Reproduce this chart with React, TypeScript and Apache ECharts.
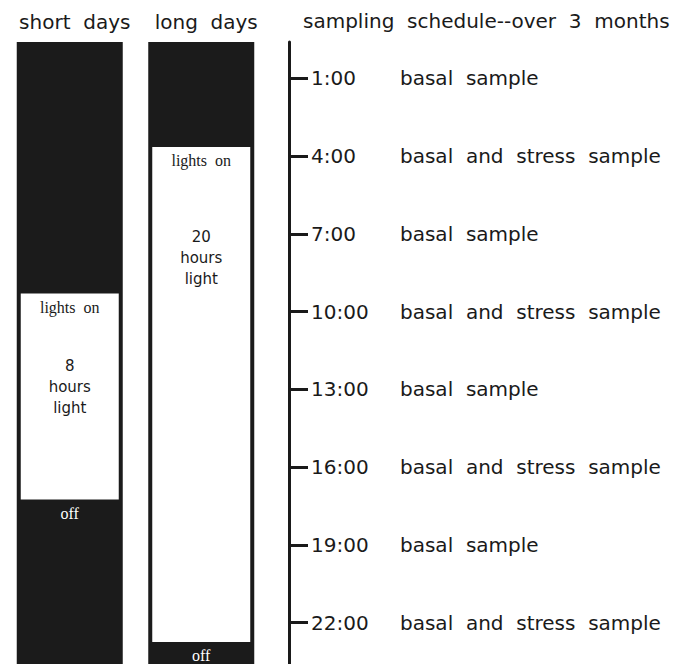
import React, { useEffect, useRef } from "react";
import * as echarts from "echarts";

// ---- data ----
const columnNames = ["short  days", "long  days"];
const lightsOn = [9.3, 3.65]; // hour of day when lights go on
const lightsOff = [17.25, 22.75]; // hour of day when lights go off
const lightHours = [8, 20];
const sampleHours = [1, 4, 7, 10, 13, 16, 19, 22];
const sampleTypes = [
  "basal  sample",
  "basal  and  stress  sample",
  "basal  sample",
  "basal  and  stress  sample",
  "basal  sample",
  "basal  and  stress  sample",
  "basal  sample",
  "basal  and  stress  sample",
];
const scheduleTitle = "sampling  schedule--over  3  months";

// ---- layout / style ----
const AXIS_MIN = -0.4;
const AXIS_MAX = 23.6;
const COL_WIDTH = 106;
const INSET = 4;
const TEXT_OFFSET = [94, 111];
const INK = "#1a1a1a";
const SANS = "DejaVu Sans";
const SERIF = "Liberation Serif";

export default function App() {
  const ref = useRef<HTMLDivElement>(null);
  useEffect(() => {
    document.body.style.margin = "0";
    const chart = echarts.init(ref.current!, null, { renderer: "svg" });
    const colData = columnNames.map((_, i) => [i, lightsOn[i], lightsOff[i], lightHours[i]]);
    chart.setOption({
      animation: false,
      title: {
        text: scheduleTitle,
        left: 303,
        top: 11,
        padding: 0,
        textStyle: { fontFamily: SANS, fontSize: 20, fontWeight: "normal", color: INK },
      },
      grid: [
        { left: 4, width: 263, top: 42, bottom: 0 },
        { left: 289, right: 0, top: 42, bottom: 0 },
      ],
      xAxis: [
        {
          gridIndex: 0,
          type: "category",
          data: columnNames,
          position: "top",
          axisLine: { show: false },
          axisTick: { show: false },
          axisLabel: {
            interval: 0,
            hideOverlap: false,
            margin: 20,
            verticalAlign: "middle",
            fontFamily: SANS,
            fontSize: 20,
            color: INK,
            padding: [0, 0, 0, 10],
          },
        },
        { gridIndex: 1, type: "value", min: 0, max: 1, show: false },
      ],
      yAxis: [
        { gridIndex: 0, type: "value", inverse: true, min: AXIS_MIN, max: AXIS_MAX, show: false },
        {
          gridIndex: 1,
          type: "value",
          inverse: true,
          min: AXIS_MIN,
          max: AXIS_MAX,
          position: "left",
          splitLine: { show: false },
          axisLine: { show: true, lineStyle: { color: INK, width: 3 } },
          axisTick: {
            show: true,
            inside: true,
            length: 19,
            customValues: sampleHours,
            lineStyle: { color: INK, width: 3 },
          },
          axisLabel: {
            show: true,
            inside: true,
            margin: 22,
            customValues: sampleHours,
            formatter: (v: number) => {
              const i = sampleHours.indexOf(v);
              return `{t|${v}:00}{s|${i >= 0 ? sampleTypes[i] : ""}}`;
            },
            rich: {
              t: { width: 89, fontFamily: SANS, fontSize: 20, color: INK },
              s: { fontFamily: SANS, fontSize: 20, color: INK },
            },
          },
        },
      ],
      series: [
        {
          type: "custom",
          xAxisIndex: 0,
          yAxisIndex: 0,
          clip: false,
          data: colData,
          renderItem: (params: any, api: any) => {
            const c = api.value(0);
            const on = api.value(1);
            const off = api.value(2);
            const hrs = api.value(3);
            const top = api.coord([c, AXIS_MIN]);
            const bot = api.coord([c, AXIS_MAX]);
            const onP = api.coord([c, on]);
            const offP = api.coord([c, off]);
            const x = top[0];
            return {
              type: "group",
              children: [
                {
                  type: "rect",
                  shape: { x: x - COL_WIDTH / 2, y: top[1], width: COL_WIDTH, height: bot[1] - top[1] },
                  style: { fill: "#1b1b1b" },
                },
                {
                  type: "rect",
                  shape: {
                    x: x - COL_WIDTH / 2 + INSET,
                    y: onP[1],
                    width: COL_WIDTH - 2 * INSET,
                    height: offP[1] - onP[1],
                  },
                  style: { fill: "#ffffff" },
                },
                {
                  type: "text",
                  x: x,
                  y: onP[1] + 14,
                  style: {
                    text: "lights  on",
                    fontFamily: SERIF,
                    fontSize: 16,
                    fill: INK,
                    align: "center",
                    verticalAlign: "middle",
                  },
                },
                {
                  type: "text",
                  x: x,
                  y: onP[1] + TEXT_OFFSET[c],
                  style: {
                    text: `${hrs}\nhours\nlight`,
                    fontFamily: SANS,
                    fontSize: 15,
                    lineHeight: 21,
                    fill: INK,
                    align: "center",
                    verticalAlign: "middle",
                  },
                },
                {
                  type: "text",
                  x: x,
                  y: offP[1] + 14,
                  style: {
                    text: "off",
                    fontFamily: SERIF,
                    fontSize: 16,
                    fill: "#ffffff",
                    align: "center",
                    verticalAlign: "middle",
                  },
                },
              ],
            };
          },
        },
      ],
    });
    return () => chart.dispose();
  }, []);
  return <div ref={ref} style={{ width: 679, height: 664 }} />;
}
